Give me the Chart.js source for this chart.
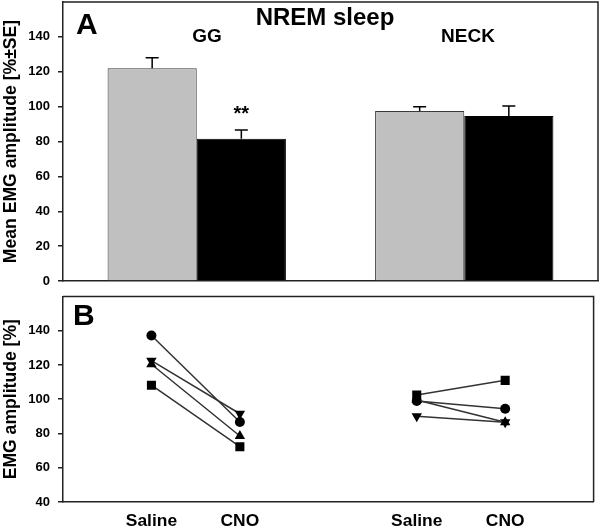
<!DOCTYPE html>
<html>
<head>
<meta charset="utf-8">
<script src="https://cdn.jsdelivr.net/npm/chart.js@4"></script>
<style>
  html, body { margin: 0; padding: 0; background: #fff; }
  #a { position: absolute; left: 0; top: 0; }
  #b { position: absolute; left: 0; top: 290px; }
</style>
</head>
<body>
<canvas id="a" width="600" height="290"></canvas>
<canvas id="b" width="600" height="242"></canvas>
<script>
// ---- Panel A data ----
const muscles = ['GG', 'NECK'];
const salineMean = [122, 97.5];
const salineSE = [6, 2.5];
const cnoMean = [81.6, 94.6];
const cnoSE = [5, 5.8];
const yTicksA = [0, 20, 40, 60, 80, 100, 120, 140];

// ---- Panel B data (per animal: [Saline, CNO]) ----
const conditions = ['Saline', 'CNO'];
const yTicksB = [40, 60, 80, 100, 120, 140];
const circleGG = [137.2, 86.7];
const circleNECK = [99, 94.4];
const downTriGG = [122.5, 91.5];
const downTriNECK = [90, 86.5];
const upTriGG = [120.4, 78.5];
const upTriNECK = [99.5, 86.5];
const squareGG = [108.2, 72.3];
const squareNECK = [102.4, 111];

const FONT = '"Liberation Sans", Arial, Helvetica, sans-serif';
const AXIS = '#222';

const frame = {
  id: 'frame',
  afterDraw(c) {
    const { left, right, top, bottom } = c.chartArea;
    const ctx = c.ctx;
    ctx.save();
    ctx.strokeStyle = AXIS;
    ctx.lineWidth = 1.5;
    ctx.beginPath();
    ctx.moveTo(left, top);
    ctx.lineTo(right, top);
    ctx.lineTo(right, bottom);
    ctx.stroke();
    ctx.restore();
  }
};

const errorBars = {
  id: 'errorBars',
  afterDatasetsDraw(c) {
    const ctx = c.ctx, y = c.scales.y;
    ctx.save();
    ctx.strokeStyle = '#000';
    ctx.lineWidth = 1.5;
    c.data.datasets.forEach((ds, i) => {
      const meta = c.getDatasetMeta(i);
      meta.data.forEach((bar, j) => {
        const top = y.getPixelForValue(ds.data[j]);
        const hi = y.getPixelForValue(ds.data[j] + ds.se[j]);
        ctx.beginPath();
        ctx.moveTo(bar.x, top);
        ctx.lineTo(bar.x, hi);
        ctx.moveTo(bar.x - 6.5, hi);
        ctx.lineTo(bar.x + 6.5, hi);
        ctx.stroke();
      });
    });
    ctx.restore();
  }
};

const labelsA = {
  id: 'labelsA',
  afterDraw(c) {
    const ctx = c.ctx, y = c.scales.y;
    ctx.save();
    ctx.fillStyle = '#000';
    ctx.textBaseline = 'alphabetic';
    ctx.textAlign = 'left';
    ctx.font = 'bold 30px ' + FONT;
    ctx.fillText('A', 76, 34);
    ctx.textAlign = 'center';
    ctx.font = 'bold 24px ' + FONT;
    ctx.fillText('NREM sleep', 325, 25);
    ctx.font = 'bold 19px ' + FONT;
    ctx.fillText(muscles[0], 207, 42);
    ctx.fillText(muscles[1], 468, 42);
    const bar = c.getDatasetMeta(1).data[0];
    ctx.font = 'bold 20px ' + FONT;
    ctx.fillText('**', bar.x, y.getPixelForValue(cnoMean[0] + cnoSE[0]) - 10);
    ctx.restore();
  }
};

const labelsB = {
  id: 'labelsB',
  afterDraw(c) {
    const ctx = c.ctx;
    ctx.save();
    ctx.fillStyle = '#000';
    ctx.textBaseline = 'alphabetic';
    ctx.textAlign = 'left';
    ctx.font = 'bold 30px ' + FONT;
    ctx.fillText('B', 73, 35);
    ctx.restore();
  }
};

const tickFont = { family: FONT, size: 13, weight: 'bold' };
const titleFont = { family: FONT, size: 17.6, weight: 'bold' };

new Chart(document.getElementById('a'), {
  type: 'bar',
  data: {
    labels: muscles,
    datasets: [
      { label: 'Saline', data: salineMean, se: salineSE, backgroundColor: '#c0c0c0', borderColor: '#3a3a3a', borderWidth: 1 },
      { label: 'CNO', data: cnoMean, se: cnoSE, backgroundColor: '#000', borderColor: '#000', borderWidth: 1 }
    ]
  },
  options: {
    responsive: false,
    animation: false,
    devicePixelRatio: 1,
    layout: { padding: { top: 2, right: 2, left: 0, bottom: 0 } },
    plugins: { legend: { display: false }, tooltip: { enabled: false } },
    datasets: { bar: { categoryPercentage: 2 / 3, barPercentage: 1 } },
    scales: {
      x: {
        grid: { display: false, drawTicks: false },
        ticks: { display: false },
        border: { display: true, color: AXIS, width: 1.5 },
        afterFit(s) { s.height = 9; s.paddingLeft = 0; s.paddingRight = 0; }
      },
      y: {
        min: 0, max: 160,
        afterBuildTicks(s) { s.ticks = yTicksA.map(v => ({ value: v })); },
        grid: { drawOnChartArea: false, drawTicks: true, tickLength: 5, color: AXIS, lineWidth: 1.5 },
        border: { display: true, color: AXIS, width: 1.5 },
        ticks: { padding: 8, color: '#000', font: tickFont },
        title: { display: true, text: 'Mean EMG amplitude [%±SE]', color: '#000', font: titleFont, padding: { top: 1, bottom: 0 } },
        afterFit(s) { s.width = 63; s.paddingTop = 0; s.paddingBottom = 0; }
      }
    }
  },
  plugins: [frame, errorBars, labelsA]
});

const labelsBcat = ['', ...conditions, '', ...conditions, ''];
const series = (gg, neck) => [null, ...gg, null, ...neck, null];
const lineStyle = { borderColor: '#333', borderWidth: 1.5, pointBackgroundColor: '#000', pointBorderColor: '#000', pointBorderWidth: 0, fill: false, tension: 0 };

new Chart(document.getElementById('b'), {
  type: 'line',
  data: {
    labels: labelsBcat,
    datasets: [
      { label: 'square', data: series(squareGG, squareNECK), pointStyle: 'rect', pointRadius: 6.4, ...lineStyle },
      { label: 'up', data: series(upTriGG, upTriNECK), pointStyle: 'triangle', pointRadius: 6, ...lineStyle },
      { label: 'circle', data: series(circleGG, circleNECK), pointStyle: 'circle', pointRadius: 5, ...lineStyle },
      { label: 'down', data: series(downTriGG, downTriNECK), pointStyle: 'triangle', pointRotation: 180, pointRadius: 6, ...lineStyle }
    ]
  },
  options: {
    responsive: false,
    animation: false,
    devicePixelRatio: 1,
    spanGaps: false,
    layout: { padding: { top: 3, right: 2, left: 0, bottom: 0 } },
    plugins: { legend: { display: false }, tooltip: { enabled: false } },
    scales: {
      x: {
        type: 'category',
        offset: false,
        grid: { display: false, drawTicks: false },
        border: { display: true, color: AXIS, width: 1.5 },
        ticks: { autoSkip: false, maxRotation: 0, minRotation: 0, padding: 9, color: '#000', font: { family: FONT, size: 17.4, weight: 'bold' } },
        afterFit(s) { s.height = 30; s.paddingLeft = 0; s.paddingRight = 0; }
      },
      y: {
        min: 40, max: 160,
        afterBuildTicks(s) { s.ticks = yTicksB.map(v => ({ value: v })); },
        grid: { drawOnChartArea: false, drawTicks: true, tickLength: 5, color: AXIS, lineWidth: 1.5 },
        border: { display: true, color: AXIS, width: 1.5 },
        ticks: { padding: 8, color: '#000', font: tickFont },
        title: { display: true, text: 'EMG amplitude [%]', color: '#000', font: titleFont, padding: { top: 1, bottom: 0 } },
        afterFit(s) { s.width = 63; s.paddingTop = 0; s.paddingBottom = 0; }
      }
    }
  },
  plugins: [frame, labelsB]
});
</script>
</body>
</html>
